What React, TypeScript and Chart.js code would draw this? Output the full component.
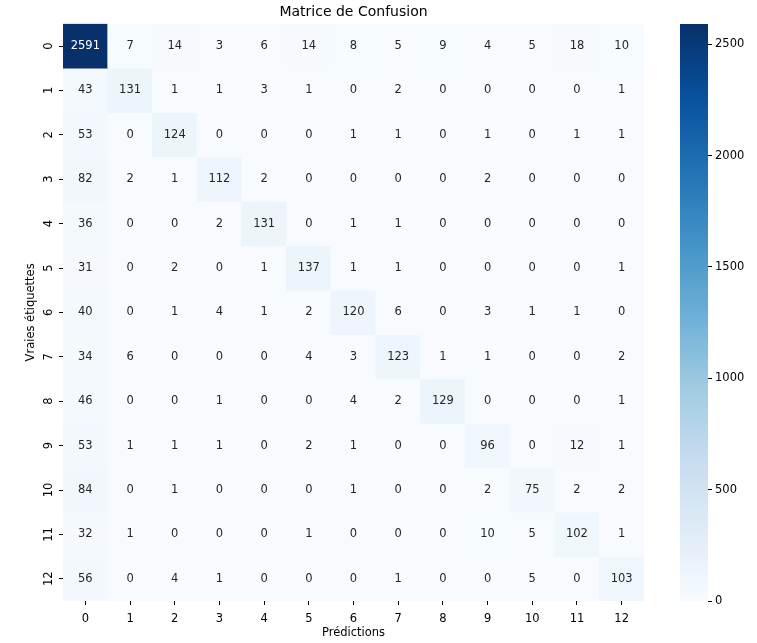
import React, { useEffect, useRef } from 'react';
import { Chart, registerables } from 'chart.js';

Chart.register(...registerables);

const classLabels = ['0', '1', '2', '3', '4', '5', '6', '7', '8', '9', '10', '11', '12'];

const row0 = [2591, 7, 14, 3, 6, 14, 8, 5, 9, 4, 5, 18, 10];
const row1 = [43, 131, 1, 1, 3, 1, 0, 2, 0, 0, 0, 0, 1];
const row2 = [53, 0, 124, 0, 0, 0, 1, 1, 0, 1, 0, 1, 1];
const row3 = [82, 2, 1, 112, 2, 0, 0, 0, 0, 2, 0, 0, 0];
const row4 = [36, 0, 0, 2, 131, 0, 1, 1, 0, 0, 0, 0, 0];
const row5 = [31, 0, 2, 0, 1, 137, 1, 1, 0, 0, 0, 0, 1];
const row6 = [40, 0, 1, 4, 1, 2, 120, 6, 0, 3, 1, 1, 0];
const row7 = [34, 6, 0, 0, 0, 4, 3, 123, 1, 1, 0, 0, 2];
const row8 = [46, 0, 0, 1, 0, 0, 4, 2, 129, 0, 0, 0, 1];
const row9 = [53, 1, 1, 1, 0, 2, 1, 0, 0, 96, 0, 12, 1];
const row10 = [84, 0, 1, 0, 0, 0, 1, 0, 0, 2, 75, 2, 2];
const row11 = [32, 1, 0, 0, 0, 1, 0, 0, 0, 10, 5, 102, 1];
const row12 = [56, 0, 4, 1, 0, 0, 0, 1, 0, 0, 5, 0, 103];

const matrixRows: number[][] = [row0, row1, row2, row3, row4, row5, row6, row7, row8, row9, row10, row11, row12];

const colorbarTicks = [0, 500, 1000, 1500, 2000, 2500];

const bluesStops = ['#f7fbff', '#deebf7', '#c6dbef', '#9ecae1', '#6baed6', '#4292c6', '#2171b5', '#08519c', '#08306b'];

const FONT = 'DejaVu Sans';

function hexToRgb(h: string): number[] {
  const n = parseInt(h.slice(1), 16);
  return [(n >> 16) & 255, (n >> 8) & 255, n & 255];
}

function bluesRgb(t: number): number[] {
  const tt = Math.max(0, Math.min(1, t));
  const pos = tt * (bluesStops.length - 1);
  const i = Math.min(Math.floor(pos), bluesStops.length - 2);
  const f = pos - i;
  const a = hexToRgb(bluesStops[i]);
  const b = hexToRgb(bluesStops[i + 1]);
  return [0, 1, 2].map((k) => Math.round(a[k] + (b[k] - a[k]) * f));
}

function bluesColor(t: number): string {
  const c = bluesRgb(t);
  return `rgb(${c[0]},${c[1]},${c[2]})`;
}

function luminance(c: number[]): number {
  const lin = c.map((v) => {
    const x = v / 255;
    return x <= 0.03928 ? x / 12.92 : Math.pow((x + 0.055) / 1.055, 2.4);
  });
  return 0.2126 * lin[0] + 0.7152 * lin[1] + 0.0722 * lin[2];
}

const vmax = Math.max(...matrixRows.map((r) => Math.max(...r)));

const cellValuesPlugin = {
  id: 'cellValues',
  afterDatasetsDraw(chart: any) {
    const ctx = chart.ctx;
    ctx.save();
    ctx.font = `11.5px "${FONT}"`;
    ctx.textAlign = 'center';
    ctx.textBaseline = 'middle';
    matrixRows.forEach((row, r) => {
      const meta = chart.getDatasetMeta(r);
      meta.data.forEach((bar: any, c: number) => {
        const v = row[c];
        const { x, y, base } = bar.getProps(['x', 'y', 'base'], true);
        const lum = luminance(bluesRgb(v / vmax));
        ctx.fillStyle = lum > 0.408 ? '#262626' : '#ffffff';
        ctx.fillText(String(v), x, (y + base) / 2);
      });
    });
    ctx.restore();
  },
};

export default function App() {
  const mainRef = useRef<HTMLCanvasElement | null>(null);
  const barRef = useRef<HTMLCanvasElement | null>(null);

  useEffect(() => {
    if (!mainRef.current || !barRef.current) return;
    const tickFont = { family: FONT, size: 11.5 };

    const datasets = matrixRows.map((row, r) => ({
      label: `Vraie ${classLabels[r]}`,
      data: row.map(() => [r - 0.5, r + 0.5]),
      backgroundColor: row.map((v) => bluesColor(v / vmax)),
      borderWidth: 0,
      barPercentage: 1,
      categoryPercentage: 1,
      grouped: false,
    }));

    const main = new Chart(mainRef.current, {
      type: 'bar',
      data: { labels: classLabels, datasets: datasets as any },
      plugins: [cellValuesPlugin],
      options: {
        animation: false,
        responsive: false,
        layout: { padding: { left: 0, right: 113, top: 0, bottom: 0 } },
        plugins: {
          legend: { display: false },
          tooltip: { enabled: false },
          title: {
            display: true,
            text: 'Matrice de Confusion',
            fullSize: false,
            color: '#000',
            font: { family: FONT, size: 14, weight: 'normal' },
            padding: { top: 4, bottom: 3 },
          },
        },
        scales: {
          x: {
            type: 'category',
            position: 'bottom',
            offset: true,
            border: { display: false },
            grid: { display: true, drawOnChartArea: false, drawTicks: true, tickLength: 4, tickColor: '#000', offset: false },
            ticks: { color: '#000', font: tickFont, padding: 7, maxRotation: 0, minRotation: 0 },
            title: { display: true, text: 'Prédictions', color: '#000', font: tickFont, padding: { top: 0, bottom: 3 } },
            afterFit: (s: any) => { s.height = 42; },
          },
          y: {
            type: 'linear',
            reverse: true,
            min: -0.5,
            max: 12.5,
            border: { display: false },
            afterBuildTicks: (s: any) => { s.ticks = classLabels.map((_, i) => ({ value: i })); },
            grid: { display: true, drawOnChartArea: false, drawTicks: true, tickLength: 4, tickColor: '#000' },
            ticks: {
              color: '#000',
              font: tickFont,
              padding: 3,
              minRotation: 90,
              maxRotation: 90,
              crossAlign: 'center',
              autoSkip: false,
              callback: (v: any) => classLabels[Number(v)],
            },
            title: { display: true, text: 'Vraies étiquettes', color: '#000', font: tickFont, padding: { top: 24, bottom: 0 } },
            afterFit: (s: any) => { s.width = 63; },
          },
        },
      } as any,
    });

    const bar = new Chart(barRef.current, {
      type: 'bar',
      data: {
        labels: [''],
        datasets: [{
          label: 'colorbar',
          data: [vmax],
          borderWidth: 0,
          barPercentage: 1,
          categoryPercentage: 1,
          backgroundColor: (ctx: any) => {
            const area = ctx.chart.chartArea;
            if (!area) return bluesStops[0];
            const g = ctx.chart.ctx.createLinearGradient(0, area.bottom, 0, area.top);
            bluesStops.forEach((c, i) => g.addColorStop(i / (bluesStops.length - 1), c));
            return g;
          },
        }],
      },
      options: {
        animation: false,
        responsive: false,
        layout: { padding: { left: 0, right: 0, top: 24, bottom: 42 } },
        plugins: { legend: { display: false }, tooltip: { enabled: false }, title: { display: false } },
        scales: {
          x: { display: false },
          y: {
            position: 'right',
            min: 0,
            max: vmax,
            border: { display: false },
            afterBuildTicks: (s: any) => { s.ticks = colorbarTicks.map((v) => ({ value: v })); },
            grid: { display: true, drawOnChartArea: false, drawTicks: true, tickLength: 4, tickColor: '#000' },
            ticks: { color: '#000', font: tickFont, padding: 3, autoSkip: false, callback: (v: any) => String(v) },
            afterFit: (s: any) => { s.width = 49; },
          },
        },
      } as any,
    });

    return () => {
      main.destroy();
      bar.destroy();
    };
  }, []);

  return (
    <div style={{ position: 'absolute', left: 0, top: 0, width: 757, height: 643, background: '#fff' }}>
      <canvas ref={mainRef} width={757} height={643} style={{ position: 'absolute', left: 0, top: 0, display: 'block' }} />
      <canvas ref={barRef} width={77} height={643} style={{ position: 'absolute', left: 680, top: 0, display: 'block' }} />
    </div>
  );
}
